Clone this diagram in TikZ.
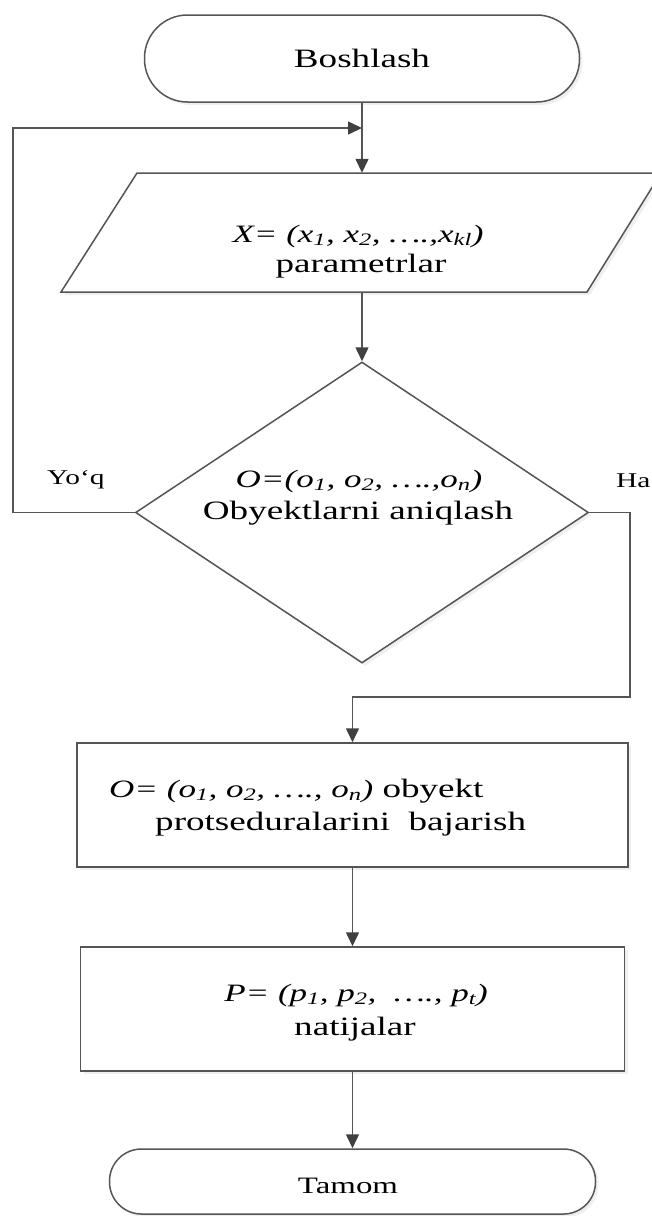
\documentclass[tikz,border=0pt]{standalone}
\usepackage{fontspec}
\setmainfont{Liberation Serif}[FakeStretch=1.4]
\usetikzlibrary{arrows.meta,shapes.geometric,shadows}
\definecolor{linegray}{HTML}{555555}
\definecolor{tipgray}{HTML}{404040}
\newcommand\sbx[1]{\textsubscript{#1}}
\newcommand\mathpart{\fontsize{25}{30}\selectfont\itshape}
\tikzset{
  shp/.style={draw=linegray,line width=1.5pt,fill=white,
    drop shadow={shadow xshift=3pt,shadow yshift=-3pt,fill=black!12}},
  term/.style={shp,rectangle,inner sep=0pt},
  box/.style={shp,rectangle,inner sep=0pt},
  dec/.style={shp,diamond,inner sep=0pt},
  ghost/.style={draw=none,inner sep=0pt},
  txt/.style={inner sep=0pt,font=\fontsize{26.5}{32}\selectfont},
  lbl/.style={inner sep=0pt,font=\fontsize{21}{25}\selectfont},
  conn/.style={draw=linegray,line width=1.5pt},
  arr/.style={conn,-{Triangle[width=13pt,length=14pt,fill=tipgray,color=tipgray]}}
}
\begin{document}
\begin{tikzpicture}[x=1pt,y=-1pt]
\useasboundingbox (0,0) rectangle (652,1216);
\clip (0,0) rectangle (652,1216);
% shapes
\node[term,rounded corners=43pt,minimum width=435pt,minimum height=87pt] (start) at (362,58.5) {};
\path[shp] (137,173) -- (661,173) -- (587,292) -- (61,292) -- cycle;
\node[ghost,minimum width=440pt,minimum height=119pt] (para) at (362,232.5) {};
\node[dec,minimum width=453pt,minimum height=301pt] (cond) at (362,512.5) {};
\node[box,minimum width=551pt,minimum height=124pt] (r1) at (352.5,805) {};
\node[box,minimum width=544pt,minimum height=124pt] (r2) at (352.5,1009) {};
\node[term,rounded corners=32pt,minimum width=486pt,minimum height=65pt] (stop) at (352.5,1181.5) {};
% texts
\node[txt,anchor=base] (t0) at (362,67) {Boshlash};
\node[txt,anchor=base] (t1) at (358,242) {\mathpart X= (x\sbx{1}, x\sbx{2}, ….,x\sbx{kl})};
\node[txt,anchor=base] (t2) at (361,272) {parametrlar};
\node[txt,anchor=base] (t3) at (359,487) {\mathpart O=(o\sbx{1}, o\sbx{2}, ….,o\sbx{n})};
\node[txt,anchor=base] (t4) at (358,519) {Obyektlarni aniqlash};
\node[txt,anchor=base west] (t5) at (109,797) {{\mathpart O= (o\sbx{1}, o\sbx{2}, …., o\sbx{n})} obyekt};
\node[txt,anchor=base west] (t6) at (155,830) {protseduralarini\ \ bajarish};
\node[txt,anchor=base] (t7) at (356,1001) {\mathpart P= (p\sbx{1}, p\sbx{2},\ \ …., p\sbx{t})};
\node[txt,anchor=base] (t8) at (355,1035) {natijalar};
\node[txt,anchor=base,font=\fontsize{23.5}{28}\selectfont] (t9) at (348,1193) {Tamom};
\node[lbl,anchor=base west] (yoq) at (47,484) {Yo\symbol{96}q};
\node[lbl,anchor=base west] (ha) at (616,487) {Ha};
% connectors
\coordinate (lb) at (13,512.5);
\coordinate (lt) at (13,128);
\coordinate (rb) at (630,697);
\draw[arr] (start.south) -- (para.north);
\draw[arr] (cond.west) -- (lb) -- (lt) -- (start.south |- lt);
\draw[arr] (para.south) -- (cond.north);
\draw[arr] (cond.east) -| (rb) -| (r1.north);
\draw[arr] (r1.south) -- (r2.north);
\draw[arr] (r2.south) -- (stop.north);
\end{tikzpicture}
\end{document}
